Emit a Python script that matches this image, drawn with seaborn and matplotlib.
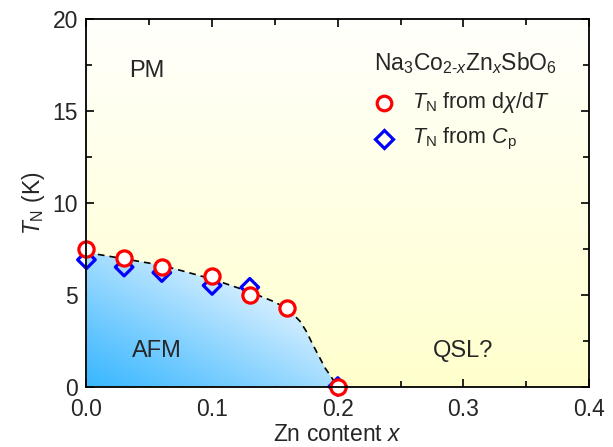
import numpy as np
import matplotlib
matplotlib.use("Agg")
import matplotlib.pyplot as plt
import seaborn as sns
from matplotlib.patches import Polygon
from matplotlib.ticker import MultipleLocator

# ---- data ----
x_chi = [0.0, 0.03, 0.06, 0.10, 0.13, 0.16, 0.20]
tn_chi = [7.5, 7.0, 6.5, 6.0, 5.0, 4.3, 0.0]
x_cp = [0.0, 0.03, 0.06, 0.10, 0.13, 0.20]
tn_cp = [6.9, 6.5, 6.2, 5.5, 5.4, 0.0]
boundary_x = [0.0, 0.03, 0.06, 0.10, 0.13, 0.15, 0.16, 0.165, 0.17, 0.175, 0.18, 0.19, 0.20]
boundary_y = [7.3, 6.95, 6.6, 5.85, 5.15, 4.6, 4.2, 3.9, 3.55, 3.0, 2.3, 1.0, 0.0]
xticks = [0.0, 0.1, 0.2, 0.3, 0.4]
yticks = [0, 5, 10, 15, 20]

sns.set_style("ticks")
plt.rcParams["font.family"] = ["Liberation Sans", "DejaVu Sans"]
plt.rcParams["mathtext.fontset"] = "custom"
plt.rcParams["mathtext.rm"] = "Liberation Sans"
plt.rcParams["mathtext.it"] = "Liberation Sans:italic"
plt.rcParams["mathtext.bf"] = "Liberation Sans:bold"

fig = plt.figure(figsize=(6.13, 4.47), dpi=100)
ax = fig.add_axes([0.141, 0.1353, 0.820, 0.822])
ax.set_xlim(0, 0.4)
ax.set_ylim(0, 20)

# yellow vertical gradient background
ny = 200
tv = np.linspace(0, 1, ny)[:, None]  # 0 bottom -> 1 top
bot = np.array([255, 255, 205]) / 255
top = np.array([255, 255, 252]) / 255
grad = bot[None, None, :] * (1 - tv[..., None]) + top[None, None, :] * tv[..., None]
grad = np.repeat(grad, 2, axis=1)
ax.imshow(grad, extent=[0, 0.4, 0, 20], origin="lower", aspect="auto", zorder=0)

# blue diagonal gradient for AFM region
gx = np.linspace(0, 0.2, 200)
gy = np.linspace(0, 7.5, 200)
GX, GY = np.meshgrid(gx, gy)
t = np.clip((GX / 0.2 + GY / 7.5) / 1.65, 0, 1) ** 1.1
blue = np.array([58, 183, 255]) / 255
white = np.array([245, 250, 255]) / 255
img = blue[None, None, :] * (1 - t[..., None]) + white[None, None, :] * t[..., None]
im = ax.imshow(img, extent=[0, 0.2, 0, 7.5], origin="lower", aspect="auto", zorder=1)
poly = Polygon(list(zip(boundary_x, boundary_y)) + [(0.2, 0), (0, 0)], closed=True,
               transform=ax.transData, facecolor="none", edgecolor="none")
ax.add_patch(poly)
im.set_clip_path(poly)

# dashed boundary
sns.lineplot(x=boundary_x, y=boundary_y, ax=ax, color="black", lw=1.2,
             linestyle=(0, (4, 3)), sort=False, zorder=2)

# data points
sns.scatterplot(x=x_cp, y=tn_cp, ax=ax, marker="D", s=80, facecolor="none",
                edgecolor="#0000ff", linewidth=2.3, zorder=3, clip_on=False)
sns.scatterplot(x=x_chi, y=tn_chi, ax=ax, marker="o", s=120, facecolor="white",
                edgecolor="#ff0000", linewidth=2.3, zorder=4, clip_on=False)

ax.set_xlim(0, 0.4)
ax.set_ylim(0, 20)
ax.set_xticks(xticks)
ax.set_xticklabels([f"{v:.1f}" for v in xticks])
ax.set_yticks(yticks)
ax.xaxis.set_minor_locator(MultipleLocator(0.05))
ax.yaxis.set_minor_locator(MultipleLocator(2.5))
ax.tick_params(which="both", direction="in", top=True, right=True, labelsize=16.5,
               width=1.2, color="black")
ax.tick_params(which="major", length=6)
ax.tick_params(which="minor", length=4)
ax.tick_params(axis="x", which="major", pad=8)
ax.tick_params(axis="y", which="major", pad=6)
for s in ax.spines.values():
    s.set_linewidth(1.3)
    s.set_color("black")
    s.set_zorder(5)

ax.set_xlabel("Zn content $x$", fontsize=16.5, labelpad=2)
ax.set_ylabel(r"$T_{\mathrm{N}}$ (K)", fontsize=16.5, labelpad=4)

# region labels
ax.text(0.048, 17.2, "PM", fontsize=17, ha="center", va="center")
ax.text(0.056, 1.95, "AFM", fontsize=17, ha="center", va="center")
ax.text(0.30, 1.95, "QSL?", fontsize=17, ha="center", va="center")

# legend (manual)
ax.text(0.229, 17.6, r"Na$_3$Co$_{2\text{-}x}$Zn$_x$SbO$_6$", fontsize=16.5, ha="left", va="center")
ax.plot([0.2366], [15.45], marker="o", ms=10.5, mfc="white", mec="#ff0000", mew=2.3, ls="none")
ax.plot([0.2366], [13.45], marker="D", ms=9, mfc="none", mec="#0000ff", mew=2.3, ls="none")
ax.text(0.259, 15.45, r"$T_{\mathrm{N}}$ from d$\chi$/d$T$", fontsize=15.5, ha="left", va="center")
ax.text(0.259, 13.45, r"$T_{\mathrm{N}}$ from $C_{\mathrm{p}}$", fontsize=15.5, ha="left", va="center")

fig.savefig("out.png", dpi=100)
